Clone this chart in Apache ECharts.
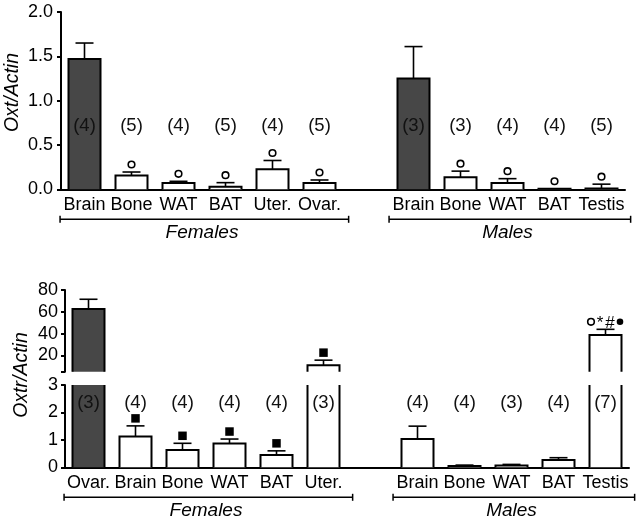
<!DOCTYPE html>
<html><head><meta charset="utf-8">
<script src="https://cdn.jsdelivr.net/npm/echarts@6/dist/echarts.min.js"></script>
<style>html,body{margin:0;padding:0;background:#fff}#c{width:638px;height:520px}</style>
</head><body><div id="c"></div>
<script>
// ---------- DATA ----------
// Top panel: Oxt/Actin
const catTop   = ['Brain','Bone','WAT','BAT','Uter.','Ovar.','','Brain','Bone','WAT','BAT','Testis'];
const oxtMean  = [1.47, 0.155, 0.07, 0.03, 0.225, 0.07, null, 1.25, 0.135, 0.07, 0.006, 0.008];
const oxtSem   = [0.18, 0.04, 0.02, 0.045, 0.10, 0.035, null, 0.36, 0.07, 0.05, 0, 0.05];
const oxtN     = ['(4)','(5)','(4)','(5)','(4)','(5)','','(3)','(3)','(4)','(4)','(5)'];
const oxtSig   = ['','°','°','°','°','°','','','°','°','°','°'];
const oxtTicks = [0, 0.5, 1.0, 1.5, 2.0];

// Bottom panel: Oxtr/Actin (broken axis)
const catBottom = ['Ovar.','Brain','Bone','WAT','BAT','Uter.','','Brain','Bone','WAT','BAT','Testis'];
const oxtrMean  = [62.5, 1.12, 0.63, 0.87, 0.45, 11.0, null, 1.03, 0.05, 0.07, 0.27, 38.6];
const oxtrSem   = [9.0, 0.39, 0.245, 0.16, 0.15, 4.6, null, 0.47, 0.03, 0.035, 0.08, 5.3];
const oxtrN     = ['(3)','(4)','(4)','(4)','(4)','(3)','','(4)','(4)','(3)','(4)','(7)'];
const oxtrSig   = ['','■','■','■','■','■','','','','','','°*#•'];
const oxtrTicksHigh = [20, 40, 60, 80];
const oxtrTicksLow  = [0, 1, 2, 3];

// Groups (bracket under the category labels)
const groupNames = ['Females','Males'];
const groupFirst = [0, 7];
const groupLast  = [5, 11];

// ---------- STYLE ----------
const FONT = '"Liberation Sans", Arial, Helvetica, sans-serif';
const INK = '#000';
const DARK = '#474747';
const BW = 32;          // bar width px
const CAP = 18;         // error cap width px
const LOW_MAX = 3, HIGH_MIN = 5, HIGH_MAX = 80;

const darkTop = catTop.map((c,i)=> c==='Brain' ? i : -1).filter(i=>i>=0);
const darkBottom = catBottom.map((c,i)=> c==='Ovar.' ? i : -1).filter(i=>i>=0);

function pairs(arr){ return arr.map((v,i)=>[i,v]).filter(d=>d[1]!=null); }

function barSeries(g, means, yMin, yMax, dark){
  return {
    type:'custom', xAxisIndex:g, yAxisIndex:g, silent:true, z:2, clip:false,
    data: pairs(means),
    renderItem(params, api){
      const i = api.value(0), v = api.value(1);
      if (!(v > yMin)) return null;
      const clipped = v > yMax;
      const pb = api.coord([i, yMin]), pt = api.coord([i, Math.min(v, yMax)]);
      const L = pb[0]-BW/2, R = pb[0]+BW/2;
      const ls = {stroke:INK, lineWidth:2, fill:null};
      const ch = [{type:'rect', shape:{x:L, y:pt[1], width:BW, height:pb[1]-pt[1]},
                   style:{fill: dark.includes(i) ? DARK : '#fff'}}];
      if (clipped) {
        ch.push({type:'line', shape:{x1:L,y1:pb[1],x2:L,y2:pt[1]}, style:ls});
        ch.push({type:'line', shape:{x1:R,y1:pb[1],x2:R,y2:pt[1]}, style:ls});
      } else {
        ch.push({type:'polyline', shape:{points:[[L,pb[1]],[L,pt[1]],[R,pt[1]],[R,pb[1]]]}, style:ls});
      }
      return {type:'group', children:ch};
    }
  };
}

function markerShapes(str, cx, cy){
  const adv = {'°':9,'•':9,'■':10,'*':9,'#':11};
  const chars = Array.from(str);
  const total = chars.reduce((s,c)=>s+(adv[c]||10),0);
  let x = cx - total/2;
  const out = [];
  chars.forEach(c=>{
    const a = adv[c]||10, mx = x + a/2;
    if (c==='°') out.push({type:'circle', shape:{cx:mx, cy, r:3.3}, style:{fill:'#fff', stroke:INK, lineWidth:1.6}});
    else if (c==='•') out.push({type:'circle', shape:{cx:mx, cy, r:3.3}, style:{fill:INK}});
    else if (c==='■') out.push({type:'rect', shape:{x:mx-4.25, y:cy-4.25, width:8.5, height:8.5}, style:{fill:INK}});
    else out.push({type:'text', style:{text:c, x:mx, y:cy+1, align:'center', verticalAlign:'middle', fill:INK, font:'17px '+FONT}});
    x += a;
  });
  return out;
}

function errSeries(g, means, sems, sigs, yMin, yMax){
  return {
    type:'custom', xAxisIndex:g, yAxisIndex:g, silent:true, z:3, clip:false,
    data: pairs(means),
    renderItem(params, api){
      const i = api.value(0), m = api.value(1);
      const s = sems[i] || 0, tip = m + s;
      if (tip < yMin || tip > yMax) return null;
      const pm = api.coord([i, Math.max(m, yMin)]), pt = api.coord([i, tip]);
      const ls = {stroke:INK, lineWidth:1.6};
      const ch = [];
      if (s > 0) {
        ch.push({type:'line', shape:{x1:pm[0],y1:pm[1],x2:pt[0],y2:pt[1]}, style:ls});
        ch.push({type:'line', shape:{x1:pt[0]-CAP/2,y1:pt[1],x2:pt[0]+CAP/2,y2:pt[1]}, style:ls});
      }
      if (sigs[i]) markerShapes(sigs[i], pt[0], pt[1]-7.5).forEach(o=>ch.push(o));
      return {type:'group', children:ch};
    }
  };
}

function nSeries(g, labels, level){
  return {
    type:'custom', xAxisIndex:g, yAxisIndex:g, silent:true, z:4, clip:false,
    data: labels.map((t,i)=>[i, level]).filter(d=>labels[d[0]]),
    renderItem(params, api){
      const i = api.value(0);
      const p = api.coord([i, api.value(1)]);
      return {type:'text', style:{text:labels[i], x:p[0], y:p[1], align:'center', verticalAlign:'middle',
              fill:'#111', font:'18.5px '+FONT}};
    }
  };
}

function bracketSeries(g, yMin){
  return {
    type:'custom', xAxisIndex:g, yAxisIndex:g, silent:true, z:4, clip:false,
    data: groupNames.map((n,k)=>[groupFirst[k], yMin, groupLast[k], k]),
    renderItem(params, api){
      const a = api.coord([api.value(0), api.value(1)]);
      const b = api.coord([api.value(2), api.value(1)]);
      const slot = api.size([1,0])[0];
      const x1 = a[0]-0.52*slot, x2 = b[0]+0.62*slot, y = a[1]+30;
      const ls = {stroke:INK, lineWidth:1.5};
      return {type:'group', children:[
        {type:'line', shape:{x1, y1:y, x2, y2:y}, style:ls},
        {type:'line', shape:{x1, y1:y-3.5, x2:x1, y2:y+3.5}, style:ls},
        {type:'line', shape:{x1:x2, y1:y-3.5, x2, y2:y+3.5}, style:ls},
        {type:'text', style:{text:groupNames[api.value(3)], x:(a[0]+b[0])/2, y:a[1]+43, align:'center',
          verticalAlign:'middle', fill:INK, font:'italic 19px '+FONT}}
      ]};
    }
  };
}

const axisLine = {show:true, lineStyle:{color:INK, width:2}};
const axisTick = {show:true, length:4, lineStyle:{color:INK, width:2}};
const lbl = {color:INK, fontSize:18, fontFamily:FONT};
const nameStyle = {fontStyle:'italic', fontSize:19.5, color:INK, fontFamily:FONT};
const G = {outerBoundsMode:'none', containLabel:false};

const chart = echarts.init(document.getElementById('c'), null, {renderer:'canvas'});
chart.setOption({
  animation:false,
  textStyle:{fontFamily:FONT},
  grid:[
    Object.assign({left:61, top:12, width:564, height:177.3}, G),
    Object.assign({left:65, top:290, width:564, height:81.7}, G),
    Object.assign({left:65, top:385, width:564, height:82.3}, G),
    Object.assign({left:65, top:290, width:564, height:170}, G),   // name holder (bottom)
    Object.assign({left:61, top:4, width:564, height:177}, G)      // name holder (top)
  ],
  xAxis:[
    {gridIndex:0, type:'category', data:catTop, axisLine, axisTick:{show:false},
     axisLabel:Object.assign({interval:0, margin:7}, lbl)},
    {gridIndex:1, type:'category', data:catBottom, show:false},
    {gridIndex:2, type:'category', data:catBottom, axisLine, axisTick:{show:false},
     axisLabel:Object.assign({interval:0, margin:7}, lbl)},
    {gridIndex:3, type:'category', data:catBottom, show:false},
    {gridIndex:4, type:'category', data:catTop, show:false}
  ],
  yAxis:[
    {gridIndex:0, type:'value', min:0, max:2, interval:0.5, axisLine, axisTick:Object.assign({customValues:oxtTicks}, axisTick),
     axisLabel:Object.assign({customValues:oxtTicks, margin:8, formatter:v=>v.toFixed(1)}, lbl), splitLine:{show:false}},
    {gridIndex:1, type:'value', min:HIGH_MIN, max:HIGH_MAX, axisLine,
     axisTick:Object.assign({customValues:[HIGH_MIN].concat(oxtrTicksHigh)}, axisTick),
     axisLabel:Object.assign({customValues:oxtrTicksHigh, margin:7}, lbl), splitLine:{show:false}},
    {gridIndex:2, type:'value', min:0, max:LOW_MAX, interval:1, axisLine,
     axisTick:Object.assign({customValues:oxtrTicksLow}, axisTick),
     axisLabel:Object.assign({customValues:oxtrTicksLow, margin:7}, lbl), splitLine:{show:false}},
    {gridIndex:3, type:'value', min:0, max:1, axisLine:{show:false}, axisTick:{show:false}, axisLabel:{show:false},
     splitLine:{show:false}, name:'Oxtr/Actin', nameLocation:'middle', nameGap:33.5, nameTextStyle:nameStyle},
    {gridIndex:4, type:'value', min:0, max:1, axisLine:{show:false}, axisTick:{show:false}, axisLabel:{show:false},
     splitLine:{show:false}, name:'Oxt/Actin', nameLocation:'middle', nameGap:38.5, nameTextStyle:nameStyle}
  ],
  series:[
    barSeries(0, oxtMean, 0, 2, darkTop),
    errSeries(0, oxtMean, oxtSem, oxtSig, 0, 2),
    nSeries(0, oxtN, 0.72),
    bracketSeries(0, 0),
    barSeries(1, oxtrMean, HIGH_MIN, HIGH_MAX, darkBottom),
    errSeries(1, oxtrMean, oxtrSem, oxtrSig, HIGH_MIN, HIGH_MAX),
    barSeries(2, oxtrMean, 0, LOW_MAX, darkBottom),
    errSeries(2, oxtrMean, oxtrSem, oxtrSig, 0, LOW_MAX),
    nSeries(2, oxtrN, 2.35),
    bracketSeries(2, 0)
  ]
});
</script></body></html>
